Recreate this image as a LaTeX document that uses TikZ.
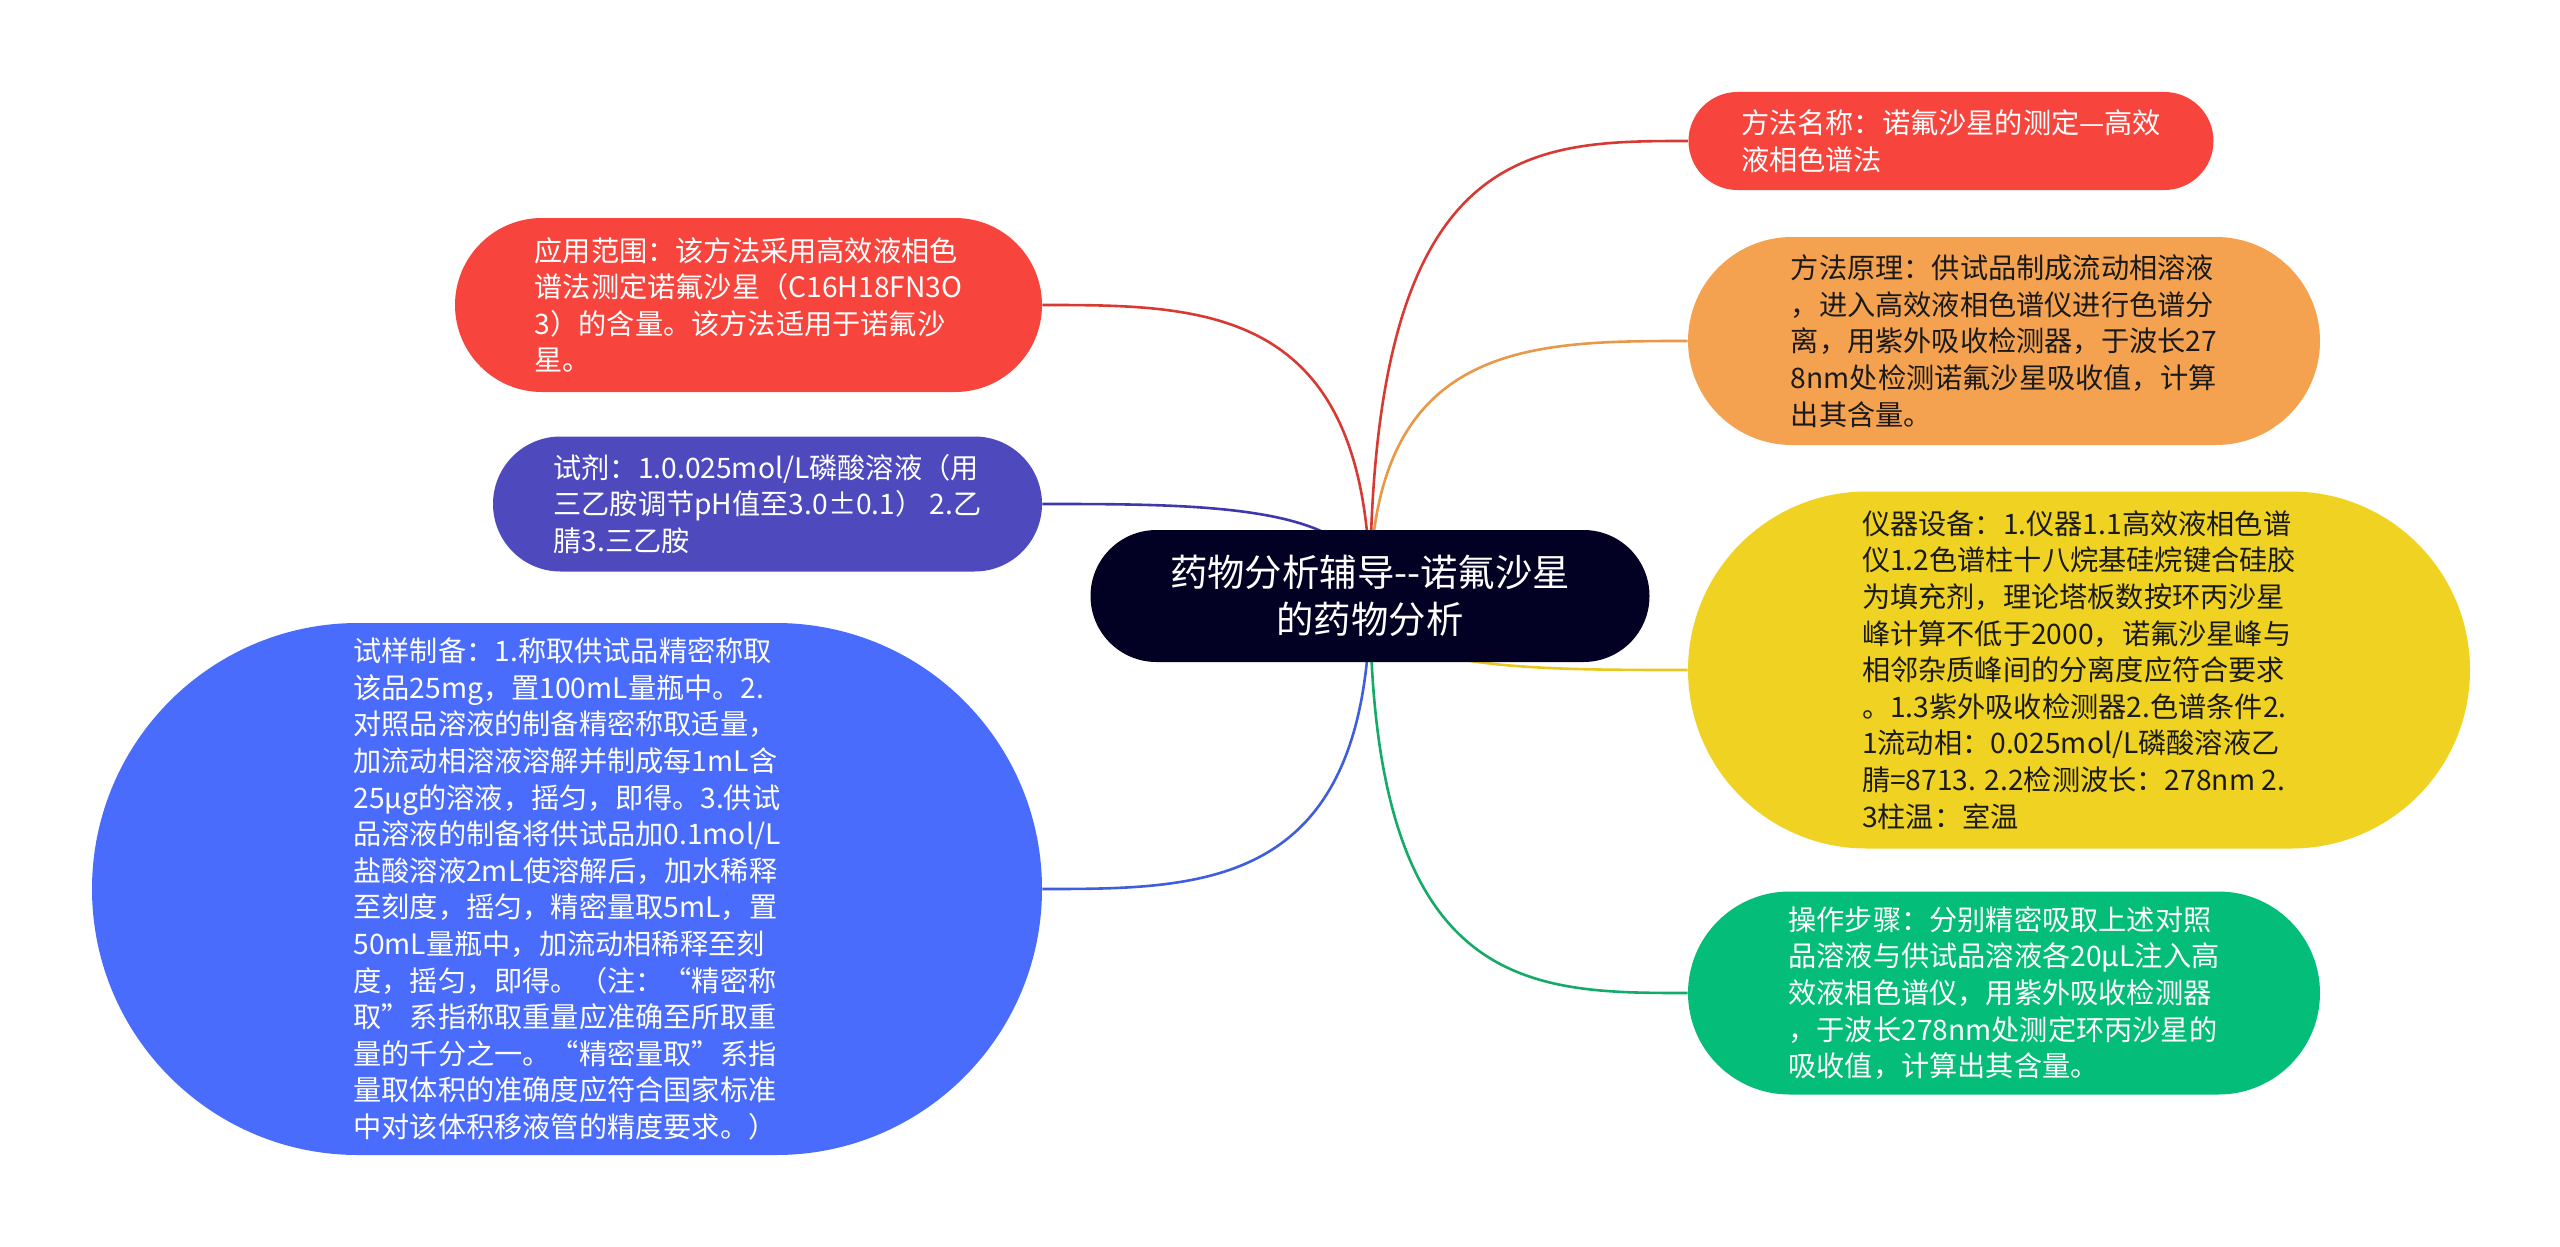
\documentclass[tikz,border=0pt]{standalone}
\usepackage{fontspec}
\setmainfont{Noto Sans CJK SC}
\usetikzlibrary{shapes.misc,backgrounds,calc}

\definecolor{rootfill}{RGB}{2,1,36}
\definecolor{redfill}{RGB}{247,69,61}
\definecolor{redline}{RGB}{214,58,50}
\definecolor{orangefill}{RGB}{244,162,80}
\definecolor{orangeline}{RGB}{232,152,70}
\definecolor{yellowfill}{RGB}{240,211,34}
\definecolor{yellowline}{RGB}{232,200,30}
\definecolor{greenfill}{RGB}{4,189,120}
\definecolor{greenline}{RGB}{20,170,104}
\definecolor{indigofill}{RGB}{78,74,190}
\definecolor{indigoline}{RGB}{62,56,170}
\definecolor{bluefill}{RGB}{74,108,252}
\definecolor{blueline}{RGB}{62,94,222}
\definecolor{darktext}{RGB}{26,26,26}

\begin{document}
\begin{tikzpicture}[x=0.5pt,y=-0.5pt,
  topic/.style={rounded rectangle, inner xsep=0pt, inner ysep=2pt, align=left,
    font=\fontsize{14.1}{18.3}\selectfont},
  branch/.style={line width=1.3pt, draw=#1}]
\useasboundingbox (0,0) rectangle (2560,1247);

% Root
\node[rounded rectangle, fill=rootfill, text=white, align=center, inner xsep=0pt,
  minimum width=279.5pt, minimum height=66pt, font=\fontsize{18.7}{23.5}\selectfont]
  (root) at (1370,596) {药物分析辅导-{}-诺氟沙星\\的药物分析};

% Text Node
\node[topic, fill=redfill, text=white, minimum width=262.5pt, minimum height=49pt]
  (name) at (1951,141) {方法名称：诺氟沙星的测定—高效\\液相色谱法};
% Text Node
\node[topic, fill=orangefill, text=darktext, minimum width=316pt, minimum height=104pt]
  (principle) at (2004,341) {方法原理：供试品制成流动相溶液\\，进入高效液相色谱仪进行色谱分\\离，用紫外吸收检测器，于波长27\\8nm处检测诺氟沙星吸收值，计算\\出其含量。};
% Text Node
\node[topic, fill=yellowfill, text=darktext, minimum width=391pt, minimum height=178.5pt]
  (equip) at (2079,670) {仪器设备：1.仪器1.1高效液相色谱\\仪1.2色谱柱十八烷基硅烷键合硅胶\\为填充剂，理论塔板数按环丙沙星\\峰计算不低于2000，诺氟沙星峰与\\相邻杂质峰间的分离度应符合要求\\。1.3紫外吸收检测器2.色谱条件2.\\1流动相：0.025mol/L磷酸溶液乙\\腈=8713. 2.2检测波长：278nm 2.\\3柱温：室温};
% Text Node
\node[topic, fill=greenfill, text=white, minimum width=316pt, minimum height=101.5pt]
  (steps) at (2004,993) {操作步骤：分别精密吸取上述对照\\品溶液与供试品溶液各20μL注入高\\效液相色谱仪，用紫外吸收检测器\\，于波长278nm处测定环丙沙星的\\吸收值，计算出其含量。};
% Text Node
\node[topic, fill=redfill, text=white, minimum width=293.5pt, minimum height=87pt]
  (scope) at (748.5,305) {应用范围：该方法采用高效液相色\\谱法测定诺氟沙星（C16H18FN3O\\3）的含量。该方法适用于诺氟沙\\星。};
% Text Node
\node[topic, fill=indigofill, text=white, minimum width=274.5pt, minimum height=67.5pt]
  (reagent) at (767.5,504) {试剂：1.0.025mol/L磷酸溶液（用\\三乙胺调节pH值至3.0±0.1） 2.乙\\腈3.三乙胺};
% Text Node
\node[topic, fill=bluefill, text=white, minimum width=475pt, minimum height=266pt]
  (sample) at (567,889) {试样制备：1.称取供试品精密称取\\该品25mg，置100mL量瓶中。2.\\对照品溶液的制备精密称取适量，\\加流动相溶液溶解并制成每1mL含\\25μg的溶液，摇匀，即得。3.供试\\品溶液的制备将供试品加0.1mol/L\\盐酸溶液2mL使溶解后，加水稀释\\至刻度，摇匀，精密量取5mL，置\\50mL量瓶中，加流动相稀释至刻\\度，摇匀，即得。（注：“精密称\\取”系指称取重量应准确至所取重\\量的千分之一。“精密量取”系指\\量取体积的准确度应符合国家标准\\中对该体积移液管的精度要求。）};

% Curved Lines
\begin{scope}[on background layer]
\draw[branch=redline] (root.center) .. controls (root.center |- name.west) and ($(root.center |- name.west)!0.5!(name.west)$) .. (name.west);
\draw[branch=orangeline] (root.center) .. controls (root.center |- principle.west) and ($(root.center |- principle.west)!0.5!(principle.west)$) .. (principle.west);
\draw[branch=yellowline] (root.center) .. controls (root.center |- equip.west) and ($(root.center |- equip.west)!0.5!(equip.west)$) .. (equip.west);
\draw[branch=greenline] (root.center) .. controls (root.center |- steps.west) and ($(root.center |- steps.west)!0.5!(steps.west)$) .. (steps.west);
\draw[branch=redline] (root.center) .. controls (root.center |- scope.east) and ($(root.center |- scope.east)!0.5!(scope.east)$) .. (scope.east);
\draw[branch=indigoline] (root.center) .. controls (root.center |- reagent.east) and ($(root.center |- reagent.east)!0.5!(reagent.east)$) .. (reagent.east);
\draw[branch=blueline] (root.center) .. controls (root.center |- sample.east) and ($(root.center |- sample.east)!0.5!(sample.east)$) .. (sample.east);
\end{scope}

\end{tikzpicture}
\end{document}
